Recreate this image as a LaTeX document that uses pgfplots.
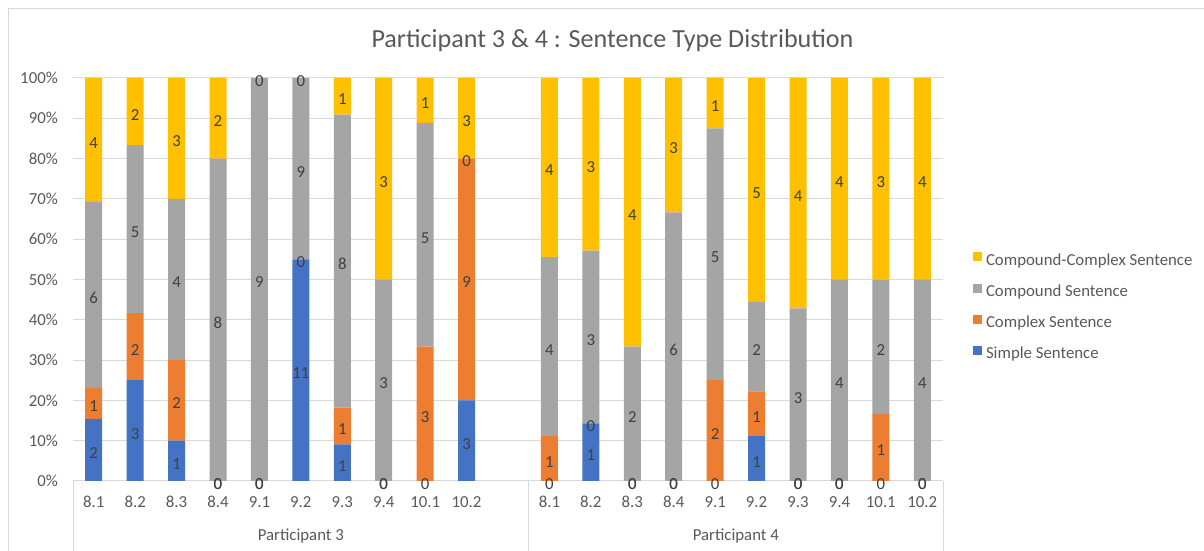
\documentclass[border=0pt]{standalone}
\usepackage{pgfplots}
\pgfplotsset{compat=1.18}
\usepackage{pgfplotstable}
\usepackage{fontspec}
\setmainfont{Carlito}
\definecolor{cSimple}{HTML}{4472C4}
\definecolor{cComplex}{HTML}{ED7D31}
\definecolor{cCompound}{HTML}{A5A5A5}
\definecolor{cCC}{HTML}{FFC000}
\definecolor{gridgray}{HTML}{D9D9D9}
\definecolor{tickgray}{HTML}{595959}
\definecolor{labelgray}{HTML}{404040}
\pgfplotsset{/pgf/number format/assume math mode=true}

% counts per sentence type; x = slot (P3: 0-9, P4: 11-20)
\pgfplotstableread{
x  s  c  p  cc
0  2  1  6  4
1  3  2  5  2
2  1  2  4  3
3  0  0  8  2
4  0  0  9  0
5  11 0  9  0
6  1  1  8  1
7  0  0  3  3
8  0  3  5  1
9  3  9  0  3
11 0  1  4  4
12 1  0  3  3
13 0  0  2  4
14 0  0  6  3
15 0  2  5  1
16 1  1  2  5
17 0  0  3  4
18 0  0  4  4
19 0  1  2  3
20 0  0  4  4
}\datatable

\newcommand\T{(\thisrow{s}+\thisrow{c}+\thisrow{p}+\thisrow{cc})}
\newcommand\sixteen{\fontsize{16.8}{20}\selectfont}

\begin{document}
\begin{tikzpicture}
\useasboundingbox (0pt,0pt) rectangle (1204pt,551pt);
\draw[gridgray, line width=1pt] (8.5pt,0pt) -- (8.5pt,542.5pt) -- (1204pt,542.5pt);
\node[font=\fontsize{26.1}{31}\selectfont, text=tickgray] at (612.5pt,510pt) {Participant 3 \& 4 : Sentence Type Distribution};

\begin{axis}[
  at={(73pt,70pt)}, anchor=south west, scale only axis,
  width=870pt, height=403pt,
  xmin=-0.5, xmax=20.5, ymin=0, ymax=100,
  ybar stacked, bar width=17pt,
  axis lines*=left,
  axis line style={draw=gridgray, line width=1pt},
  y axis line style={draw=none},
  ymajorgrids, grid style={draw=gridgray, line width=1pt},
  major tick length=0pt,
  xtick={0,1,2,3,4,5,6,7,8,9,11,12,13,14,15,16,17,18,19,20},
  xticklabels={8.1,8.2,8.3,8.4,9.1,9.2,9.3,9.4,10.1,10.2,8.1,8.2,8.3,8.4,9.1,9.2,9.3,9.4,10.1,10.2},
  ytick={0,10,20,30,40,50,60,70,80,90,100},
  yticklabels={0\%,10\%,20\%,30\%,40\%,50\%,60\%,70\%,80\%,90\%,100\%},
  xticklabel style={font=\sixteen, text=tickgray, anchor=base, yshift=-27pt, inner sep=0pt},
  yticklabel style={font=\sixteen, text=tickgray, anchor=east, xshift=-15pt, inner sep=0pt},
  clip=false,
  reverse legend,
  legend cell align=left,
  legend image code/.code={\fill[#1] (0pt,0.7pt) rectangle (9pt,9.7pt);},
  legend style={at={(1.0345,0.567)}, anchor=north west, draw=none, fill=none,
    inner sep=0pt, outer sep=0pt, row sep=13.9pt, column sep=4pt,
    font=\sixteen, text=tickgray,
    nodes={inner sep=0pt, text height=11pt, text depth=4pt}},
]
\addplot[fill=cSimple, draw=none] table[x=x, y expr={\thisrow{s}/\T*100}]{\datatable};
\addlegendentry{Simple Sentence}
\addplot[fill=cComplex, draw=none] table[x=x, y expr={\thisrow{c}/\T*100}]{\datatable};
\addlegendentry{Complex Sentence}
\addplot[fill=cCompound, draw=none] table[x=x, y expr={\thisrow{p}/\T*100}]{\datatable};
\addlegendentry{Compound Sentence}
\addplot[fill=cCC, draw=none] table[x=x, y expr={\thisrow{cc}/\T*100}]{\datatable};
\addlegendentry{Compound-Complex Sentence}

\draw[gridgray, line width=1pt] (axis cs:-0.5,0) -- ++(0pt,-70pt);
\draw[gridgray, line width=1pt] (axis cs:10.5,0) -- ++(0pt,-70pt);
\draw[gridgray, line width=1pt] (axis cs:20.5,0) -- ++(0pt,-70pt);
\node[anchor=base, font=\sixteen, text=tickgray] at ([yshift=-59pt]axis cs:5,0) {Participant 3};
\node[anchor=base, font=\sixteen, text=tickgray] at ([yshift=-59pt]axis cs:15.5,0) {Participant 4};
\end{axis}

\begin{axis}[
  at={(73pt,70pt)}, anchor=south west, scale only axis,
  width=870pt, height=403pt,
  xmin=-0.5, xmax=20.5, ymin=0, ymax=100,
  hide axis, clip=false,
  nodes near coords, point meta=explicit,
  nodes near coords align=center,
  every node near coord/.append style={font=\sixteen, text=labelgray, anchor=center, yshift=-3pt, inner sep=0pt},
]
\addplot[draw=none, mark=none] table[x=x, y expr={(\thisrow{s}/2)/\T*100}, meta=s]{\datatable};
\addplot[draw=none, mark=none] table[x=x, y expr={(\thisrow{s}+\thisrow{c}/2)/\T*100}, meta=c]{\datatable};
\addplot[draw=none, mark=none] table[x=x, y expr={(\thisrow{s}+\thisrow{c}+\thisrow{p}/2)/\T*100}, meta=p]{\datatable};
\addplot[draw=none, mark=none] table[x=x, y expr={(\thisrow{s}+\thisrow{c}+\thisrow{p}+\thisrow{cc}/2)/\T*100}, meta=cc]{\datatable};
\end{axis}
\end{tikzpicture}
\end{document}
